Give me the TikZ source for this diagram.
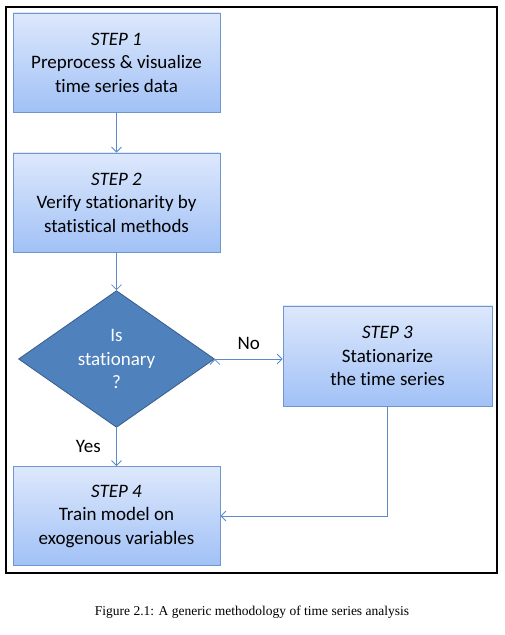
\documentclass[tikz,border=0pt]{standalone}
\usepackage{fontspec}
\setmainfont{Carlito}[Ligatures=NoCommon]
\newfontfamily\captionfont{Liberation Serif}
\usetikzlibrary{shapes.geometric,shadows,arrows.meta}

\definecolor{boxtop}{RGB}{221,232,252}
\definecolor{boxbot}{RGB}{161,193,246}
\definecolor{boxline}{RGB}{112,150,208}
\definecolor{decfill}{RGB}{79,129,189}
\definecolor{decline}{RGB}{56,93,138}
\definecolor{flowline}{RGB}{92,138,200}

\tikzset{
  stepbox/.style={shape=rectangle,draw=boxline,top color=boxtop,bottom color=boxbot,
    align=center,line width=0.8pt,minimum width=207pt,minimum height=99pt,
    font=\fontsize{19}{23.5}\selectfont,
    drop shadow={shadow xshift=1pt,shadow yshift=-1pt,opacity=0.25}},
  decision/.style={shape=diamond,draw=decline,fill=decfill,text=white,align=center,
    line width=0.8pt,minimum width=196pt,minimum height=133pt,inner sep=0pt,
    font=\fontsize{19}{23.5}\selectfont},
  flow/.style={-{Straight Barb[length=5pt,width=10pt]},draw=flowline,line width=0.8pt},
  flowlabel/.style={font=\fontsize{19}{23.5}\selectfont}
}

\begin{document}
\begin{tikzpicture}[x=1pt,y=1pt]
\useasboundingbox (0,0) rectangle (504,635);
\draw[line width=2pt] (6,62) rectangle (497,628);

\node[stepbox] (s1) at (116.5,572.5) {\textit{STEP 1}\\Preprocess \& visualize\\time series data};
\node[stepbox] (s2) at (116.5,432.5) {\textit{STEP 2}\\Verify stationarity by\\statistical methods};
\node[decision] (q) at (116.5,276) {Is\\stationary\\?};
\node[stepbox,minimum width=209pt,minimum height=100pt] (s3) at (387.5,279) {\textit{STEP 3}\\Stationarize\\the time series};
\node[stepbox] (s4) at (116.5,119) {\textit{STEP 4}\\Train model on\\exogenous variables};

\path [flow] (s1) edge (s2);
\path [flow] (s2) edge (q);
\path [flow] (q.east) edge node[flowlabel,above=6pt] {No} (s3.west |- q.east);
\path [flow] (q) edge node[flowlabel,left=12pt] {Yes} (s4);
\draw [flow] (s3.south) |- (s4.east);

\node[font=\captionfont\fontsize{13.5}{16}\selectfont] (cap) at (252,23) {Figure 2.1: A generic methodology of time series analysis};
\end{tikzpicture}
\end{document}
